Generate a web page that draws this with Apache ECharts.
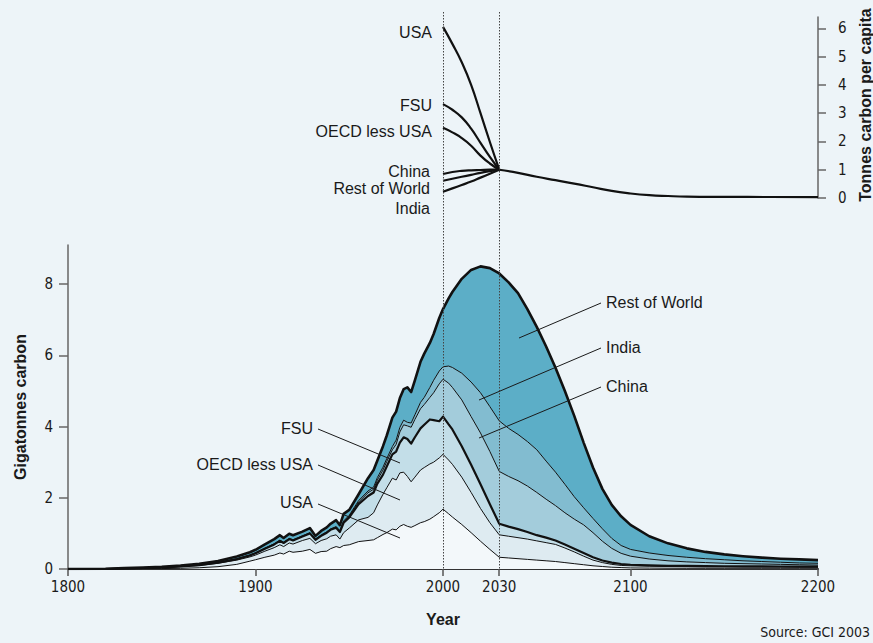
<!DOCTYPE html>
<html>
<head>
<meta charset="utf-8">
<script src="https://cdn.jsdelivr.net/npm/echarts@6/dist/echarts.min.js"></script>
<style>
html,body{margin:0;padding:0;background:#edf4f8;}
#c{width:873px;height:643px;}
</style>
</head>
<body>
<div id="c"></div>
<script>
// ---------------- DATA ----------------
const years = [1800,1820,1830,1840,1850,1860,1870,1880,1890,1897,1900,1905,1910,1913,1915,1918,1920,1925,1929,1932,1935,1938,1940,1943,1945,1947,1950,1955,1960,1963,1965,1968,1970,1973,1975,1977,1979,1981,1983,1985,1988,1990,1993,1995,1998,2000,2003,2005,2010,2015,2020,2025,2030,2035,2040,2045,2050,2055,2060,2065,2070,2075,2080,2085,2090,2095,2100,2110,2120,2130,2140,2150,2160,2170,2180,2190,2200];

// Gigatonnes carbon per region (stacked, bottom to top)
const usa =   [0,0,0.003,0.006,0.012,0.02,0.035,0.065,0.13,0.22,0.26,0.33,0.39,0.45,0.42,0.50,0.47,0.50,0.55,0.44,0.49,0.50,0.57,0.63,0.60,0.66,0.68,0.77,0.80,0.82,0.88,0.97,1.02,1.12,1.10,1.20,1.25,1.20,1.17,1.22,1.30,1.33,1.40,1.47,1.58,1.68,1.55,1.46,1.25,1.02,0.78,0.55,0.33,0.31,0.29,0.27,0.25,0.23,0.21,0.18,0.15,0.12,0.09,0.07,0.05,0.04,0.03,0.025,0.022,0.02,0.02,0.02,0.02,0.02,0.02,0.02,0.02];
const oecd =  [0,0,0.012,0.019,0.028,0.045,0.065,0.095,0.12,0.12,0.13,0.17,0.21,0.23,0.21,0.23,0.23,0.30,0.31,0.27,0.31,0.35,0.35,0.33,0.24,0.36,0.47,0.61,0.65,0.76,0.92,1.13,1.26,1.43,1.40,1.50,1.47,1.40,1.28,1.36,1.48,1.52,1.55,1.53,1.54,1.54,1.51,1.48,1.33,1.13,0.92,0.75,0.63,0.61,0.59,0.57,0.54,0.51,0.48,0.41,0.33,0.24,0.16,0.11,0.08,0.06,0.06,0.055,0.048,0.045,0.042,0.04,0.038,0.036,0.034,0.032,0.03];
const fsu =   [0,0,0.002,0.003,0.005,0.007,0.01,0.015,0.025,0.04,0.05,0.07,0.09,0.11,0.10,0.11,0.10,0.11,0.14,0.11,0.13,0.17,0.18,0.20,0.20,0.28,0.30,0.44,0.60,0.57,0.60,0.55,0.60,0.67,0.80,0.85,0.98,1.05,1.07,1.12,1.17,1.20,1.25,1.18,1.03,1.06,1.00,0.98,0.87,0.78,0.68,0.52,0.31,0.27,0.24,0.20,0.16,0.14,0.11,0.10,0.09,0.09,0.08,0.06,0.05,0.04,0.03,0.02,0.02,0.02,0.018,0.017,0.016,0.016,0.016,0.016,0.015];
const china = [0,0,0,0,0.001,0.002,0.003,0.005,0.005,0.005,0.005,0.005,0.005,0.005,0.005,0.005,0.005,0.005,0.005,0.01,0.01,0.01,0.01,0.01,0.01,0.02,0.03,0.06,0.09,0.09,0.10,0.13,0.14,0.13,0.20,0.30,0.35,0.37,0.46,0.50,0.55,0.57,0.62,0.77,1.05,1.05,1.16,1.18,1.30,1.35,1.44,1.48,1.47,1.41,1.36,1.29,1.20,1.08,0.98,0.89,0.83,0.79,0.69,0.54,0.40,0.30,0.24,0.18,0.14,0.115,0.10,0.083,0.076,0.068,0.06,0.052,0.045];
const india = [0,0,0.001,0.002,0.002,0.003,0.004,0.005,0.01,0.01,0.01,0.01,0.015,0.015,0.015,0.015,0.015,0.015,0.015,0.015,0.015,0.015,0.015,0.02,0.02,0.03,0.03,0.04,0.05,0.06,0.07,0.08,0.08,0.09,0.12,0.13,0.13,0.10,0.12,0.13,0.18,0.20,0.28,0.35,0.36,0.35,0.48,0.56,0.75,0.97,1.13,1.26,1.42,1.35,1.30,1.25,1.20,1.07,0.94,0.80,0.63,0.48,0.40,0.35,0.28,0.22,0.19,0.17,0.15,0.13,0.11,0.10,0.08,0.07,0.06,0.05,0.05];
const row =   [0,0.005,0.007,0.01,0.012,0.018,0.028,0.04,0.06,0.075,0.085,0.105,0.13,0.14,0.12,0.13,0.13,0.12,0.13,0.085,0.115,0.125,0.145,0.18,0.16,0.20,0.15,0.18,0.36,0.48,0.48,0.59,0.65,0.81,0.80,0.82,0.87,0.98,0.87,0.97,1.14,1.23,1.25,1.30,1.49,1.62,1.90,2.12,2.65,3.15,3.55,3.89,4.14,4.10,3.97,3.72,3.45,3.22,2.93,2.62,2.27,1.83,1.43,1.12,0.94,0.82,0.69,0.47,0.34,0.25,0.19,0.15,0.13,0.11,0.10,0.10,0.09];

// Tonnes carbon per capita, 2000 -> 2030 convergence
const pcYears = [2000,2005,2010,2015,2020,2025,2030];
const pcUSA   = [6.05,5.45,4.80,4.00,3.00,1.98,1.00];
const pcFSU   = [3.32,3.12,2.85,2.45,1.95,1.45,1.00];
const pcOECD  = [2.48,2.32,2.12,1.85,1.50,1.22,1.00];
const pcChina = [0.85,0.92,0.96,0.98,0.99,1.00,1.00];
const pcRoW   = [0.61,0.68,0.75,0.82,0.89,0.95,1.00];
const pcIndia = [0.22,0.34,0.46,0.58,0.72,0.86,1.00];
// common per-capita path after 2030
const wYears = [2030,2040,2050,2060,2070,2080,2090,2100,2110,2120,2130,2150,2175,2200];
const wVals  = [1.00,0.89,0.75,0.63,0.51,0.38,0.25,0.16,0.10,0.07,0.05,0.04,0.035,0.03];

const xTicks = [1800,1900,2000,2030,2100,2200];
const yTicksBottom = [0,2,4,6,8];
const yTicksTop = [0,1,2,3,4,5,6];
const markYears = [2000,2030];

// ---------------- CHART ----------------
const NARROW = "'Liberation Sans Narrow','DejaVu Sans Condensed',sans-serif";
const SANS = "'Liberation Sans',Arial,sans-serif";
const ink = '#1a1a1a';
const chart = echarts.init(document.getElementById('c'), null, {renderer:'svg'});

// value first so that the library stacks the value (y) dimension
const valYear = (xs, ys) => xs.map((x,i)=>[ys[i], x]);
const pair = (xs, ys) => xs.map((x,i)=>[x, ys[i]]);

const layerDefs = [
  {name:'USA', data:usa, color:'#f3f8fa', w:1},
  {name:'OECD less USA', data:oecd, color:'#deebf1', w:1},
  {name:'FSU', data:fsu, color:'#c3dee8', w:2.2},
  {name:'China', data:china, color:'#a3ccdb', w:1},
  {name:'India', data:india, color:'#82bcd0', w:1},
  {name:'Rest of World', data:row, color:'#5caec7', w:2.6}
];

const series = [];
layerDefs.forEach((l)=>{
  series.push({
    type:'line', name:l.name, xAxisIndex:1, yAxisIndex:1, stack:'gt',
    data: valYear(years, l.data), encode:{x:1, y:0},
    symbol:'none', smooth:false,
    lineStyle:{color:'#111', width:l.w, join:'round'},
    areaStyle:{color:l.color, opacity:1},
    silent:true
  });
});
[['USA',pcUSA],['FSU',pcFSU],['OECD less USA',pcOECD],['China',pcChina],['Rest of World',pcRoW],['India',pcIndia]].forEach(([n,arr])=>{
  series.push({type:'line', name:'pc '+n, xAxisIndex:0, yAxisIndex:0, data:pair(pcYears,arr),
    symbol:'none', smooth:true, lineStyle:{color:'#111', width:2.2}, silent:true});
});
series.push({type:'line', name:'pc world', xAxisIndex:0, yAxisIndex:0, data:pair(wYears,wVals),
  symbol:'none', smooth:true, lineStyle:{color:'#111', width:2.2}, silent:true});

const option = {
  backgroundColor:'#edf4f8',
  animation:false,
  grid:[
    {left:68, right:55, top:17, height:181},
    {left:68, right:55, top:245, height:324}
  ],
  xAxis:[
    {gridIndex:0, type:'value', min:1800, max:2200, show:false},
    {gridIndex:1, type:'value', min:1800, max:2200,
      axisLine:{lineStyle:{color:'#333', width:2}},
      axisTick:{customValues:xTicks, length:7, lineStyle:{color:'#555', width:1.5}},
      axisLabel:{customValues:xTicks, formatter:(v)=>String(v), color:ink, fontFamily:NARROW, fontSize:15, margin:10},
      splitLine:{show:false}}
  ],
  yAxis:[
    {gridIndex:0, type:'value', position:'right', min:0, max:6.4,
      axisLine:{show:true, lineStyle:{color:'#666', width:1.5}},
      axisTick:{show:true, customValues:yTicksTop, length:8, lineStyle:{color:'#666', width:1.5}},
      axisLabel:{customValues:yTicksTop, color:ink, fontFamily:NARROW, fontSize:15, margin:20},
      splitLine:{show:false}},
    {gridIndex:1, type:'value', min:0, max:9.1,
      axisLine:{show:true, lineStyle:{color:'#666', width:1.5}},
      axisTick:{show:true, customValues:yTicksBottom, length:9, lineStyle:{color:'#666', width:1.5}},
      axisLabel:{customValues:yTicksBottom, color:ink, fontFamily:NARROW, fontSize:15, margin:15},
      splitLine:{show:false}}
  ],
  series: series
};
chart.setOption(option);

// ---------------- ANNOTATIONS ----------------
const g = [];
const yTop = 12;
const yBot = chart.convertToPixel({yAxisIndex:1}, 0);
markYears.forEach(yr=>{
  const x = Math.round(chart.convertToPixel({xAxisIndex:1}, yr)) + 0.5;
  g.push({type:'line', shape:{x1:x, y1:yTop, x2:x, y2:yBot}, z:50,
    style:{stroke:'#444', lineWidth:1, lineDash:[1.5,1.5]}, silent:true});
});
function txt(t, x, y, align, font, extra){
  g.push(Object.assign({type:'text', x:x, y:y, z:60, silent:true,
    style:{text:t, fill:ink, font:font, align:align, verticalAlign:'middle'}}, extra||{}));
}
function seg(x1,y1,x2,y2){
  g.push({type:'line', shape:{x1:x1,y1:y1,x2:x2,y2:y2}, z:55, silent:true,
    style:{stroke:'#1a1a1a', lineWidth:1}});
}
const F16 = "16px " + SANS;
// top labels
txt('USA', 432, 32, 'right', F16);
txt('FSU', 432, 105, 'right', F16);
txt('OECD less USA', 432, 131, 'right', F16);
txt('China', 430, 171, 'right', F16);
txt('Rest of World', 430, 188, 'right', F16);
txt('India', 430, 208, 'right', F16);
// bottom left labels
txt('FSU', 313, 428, 'right', F16);   seg(318,429,400,463);
txt('OECD less USA', 313, 464, 'right', F16); seg(318,465,400,500);
txt('USA', 313, 502, 'right', F16);  seg(318,504,400,538);
// bottom right labels
txt('Rest of World', 606, 302, 'left', F16); seg(601,303,519,338);
txt('India', 606, 347, 'left', F16); seg(601,348,479,400);
txt('China', 606, 386, 'left', F16); seg(601,387,479,438);
// axis titles
txt('Gigatonnes carbon', 20, 407, 'center', "bold 16px " + SANS, {rotation:Math.PI/2});
txt('Tonnes carbon per capita', 865, 105, 'center', "bold 16px " + SANS, {rotation:Math.PI/2});
txt('Year', 443, 619, 'center', "bold 16px " + SANS);
txt('Source: GCI 2003', 870, 632, 'right', "14px " + NARROW);
chart.setOption({graphic:{elements:g}});
</script>
</body>
</html>
